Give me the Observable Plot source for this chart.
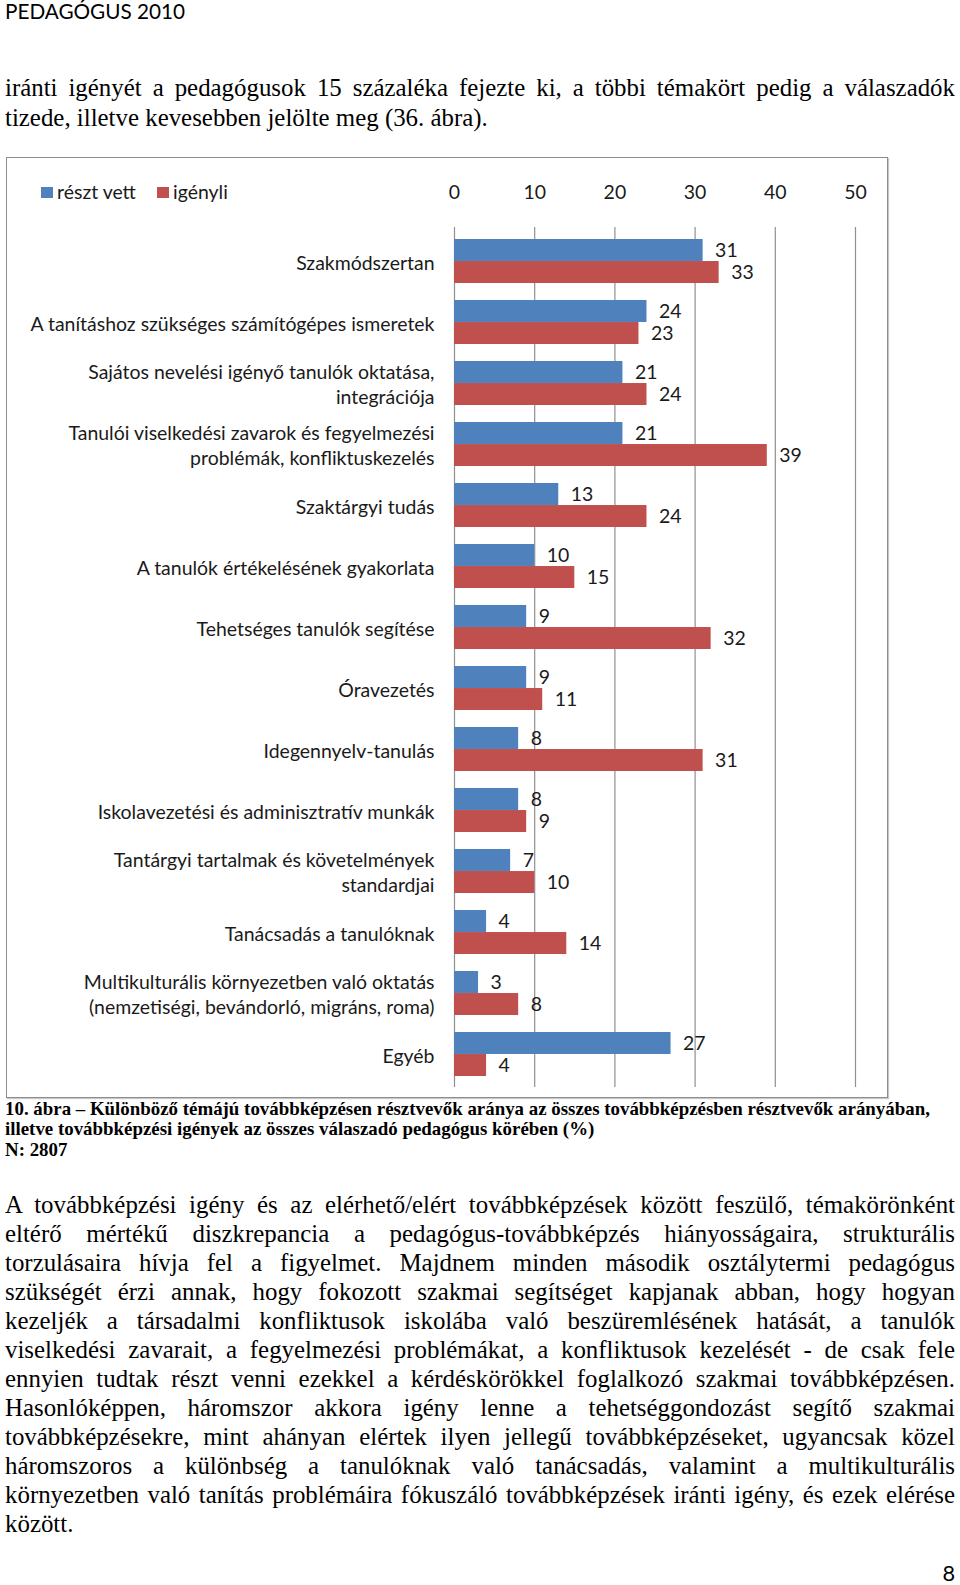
<!DOCTYPE html>
<html>
<head>
<meta charset="utf-8">
<script src="https://cdn.jsdelivr.net/npm/d3@7"></script>
<script src="https://cdn.jsdelivr.net/npm/@observablehq/plot@0.6"></script>
<style>
html, body { margin: 0; padding: 0; background: #fff; width: 960px; height: 1585px; overflow: hidden; }
#page { position: relative; width: 960px; height: 1585px; }
.abs { position: absolute; color: #000; }
</style>
</head>
<body>
<div id="page"></div>
<script>
// ---------- page texts ----------
const headerText = "PEDAGÓGUS 2010";
const introLines = [
  "iránti igényét a pedagógusok 15 százaléka fejezte ki, a többi témakört pedig a válaszadók",
  "tizede, illetve kevesebben jelölte meg (36. ábra)."
];
const captionLines = [
  "10. ábra – Különböző témájú továbbképzésen résztvevők aránya az összes továbbképzésben résztvevők arányában,",
  "illetve továbbképzési igények az összes válaszadó pedagógus körében (%)",
  "N: 2807"
];
const bodyLines = [
  "A továbbképzési igény és az elérhető/elért továbbképzések között feszülő, témakörönként",
  "eltérő mértékű diszkrepancia a pedagógus-továbbképzés hiányosságaira, strukturális",
  "torzulásaira hívja fel a figyelmet. Majdnem minden második osztálytermi pedagógus",
  "szükségét érzi annak, hogy fokozott szakmai segítséget kapjanak abban, hogy hogyan",
  "kezeljék a társadalmi konfliktusok iskolába való beszüremlésének hatását, a tanulók",
  "viselkedési zavarait, a fegyelmezési problémákat, a konfliktusok kezelését - de csak fele",
  "ennyien tudtak részt venni ezekkel a kérdéskörökkel foglalkozó szakmai továbbképzésen.",
  "Hasonlóképpen, háromszor akkora igény lenne a tehetséggondozást segítő szakmai",
  "továbbképzésekre, mint ahányan elértek ilyen jellegű továbbképzéseket, ugyancsak közel",
  "háromszoros a különbség a tanulóknak való tanácsadás, valamint a multikulturális",
  "környezetben való tanítás problémáira fókuszáló továbbképzések iránti igény, és ezek elérése",
  "között."
];
const pageNumber = "8";

// ---------- chart data ----------
const categories = [
  "Szakmódszertan",
  "A tanításhoz szükséges számítógépes ismeretek",
  "Sajátos nevelési igényő tanulók oktatása,\nintegrációja",
  "Tanulói viselkedési zavarok és fegyelmezési\nproblémák, konfliktuskezelés",
  "Szaktárgyi tudás",
  "A tanulók értékelésének gyakorlata",
  "Tehetséges tanulók segítése",
  "Óravezetés",
  "Idegennyelv-tanulás",
  "Iskolavezetési és adminisztratív munkák",
  "Tantárgyi tartalmak és követelmények\nstandardjai",
  "Tanácsadás a tanulóknak",
  "Multikulturális környezetben való oktatás\n(nemzetiségi, bevándorló, migráns, roma)",
  "Egyéb"
];
const seriesNames = ["részt vett", "igényli"];
const resztVett = [31, 24, 21, 21, 13, 10, 9, 9, 8, 8, 7, 4, 3, 27];
const igenyli   = [33, 23, 24, 39, 24, 15, 32, 11, 31, 9, 10, 14, 8, 4];
const xTicks = [0, 10, 20, 30, 40, 50];

// ---------- styling ----------
const colors = ["#4F81BD", "#C0504D"];
const FONT_SANS = 'Lato, "Open Sans", sans-serif';
const FONT_SERIF = '"Liberation Serif", "Times New Roman", serif';
const SANS_M = {asc: 0.987, desc: 0.213};
const SERIF_M = {asc: 0.891, desc: 0.216};

const ctx = document.createElement("canvas").getContext("2d");
function textW(text, family, weight, size) {
  ctx.font = `${weight} ${size}px ${family}`;
  return ctx.measureText(text).width;
}
function fit(text, family, weight, target) {
  return 100 * target / textW(text, family, weight, 100);
}

const page = document.getElementById("page");
function addLine(text, o) {
  const d = document.createElement("div");
  d.className = "abs";
  d.textContent = text;
  const m = o.metrics;
  Object.assign(d.style, {
    left: (o.x ?? 5) + "px",
    top: (o.baseline - m.asc * o.size) + "px",
    fontSize: o.size + "px",
    lineHeight: ((m.asc + m.desc) * o.size) + "px",
    fontFamily: o.family,
    fontWeight: o.weight || "normal",
    whiteSpace: o.justify ? "normal" : "nowrap",
    color: o.color || "#000"
  });
  if (o.width) d.style.width = o.width + "px";
  if (o.justify) { d.style.textAlign = "justify"; d.style.textAlignLast = "justify"; }
  page.appendChild(d);
  return d;
}

// ---------- font sizes fitted to the page ----------
const chartSize = fit(categories[1], FONT_SANS, "normal", 405);
const headerSize = fit(headerText, FONT_SANS, "normal", 170) * 1.06;
let bodySize = fit(introLines[1], FONT_SERIF, "normal", 483);
const justified = introLines.slice(0, 1).concat(bodyLines.slice(0, -1));
const widest = Math.max(...justified.map(t => textW(t, FONT_SERIF, "normal", bodySize)));
if (widest > 946) bodySize *= 946 / widest;
const capSize = fit(captionLines[0], FONT_SERIF, "bold", 926);

// ---------- header & intro ----------
addLine(headerText, {baseline: 19.5, size: headerSize, family: FONT_SANS, metrics: SANS_M});
introLines.forEach((t, i) => addLine(t, {
  baseline: 96.5 + i * 29.2, size: bodySize, family: FONT_SERIF, metrics: SERIF_M,
  width: 950, justify: i < introLines.length - 1
}));

// ---------- chart box ----------
const box = document.createElement("div");
Object.assign(box.style, {
  position: "absolute", left: "6px", top: "157px", width: "882px", height: "941px",
  border: "1.5px solid #8e8e8e", boxSizing: "border-box", boxShadow: "1px 1px 1px #c8c8c8"
});
page.appendChild(box);

// legend
seriesNames.forEach((name, i) => {
  const sx = [41, 157][i];
  const sw = document.createElement("div");
  Object.assign(sw.style, {position: "absolute", left: sx + "px", top: "186.5px", width: "11.5px", height: "11.5px", background: colors[i]});
  page.appendChild(sw);
  addLine(name, {x: sx + 16, baseline: 199, size: chartSize, family: FONT_SANS, metrics: SANS_M, color: "#1a1a1a"});
});

// ---------- the chart ----------
const rows = categories.map((cat, i) => ({cat, a: resztVett[i], b: igenyli[i]}));
const H = 941, mT = 70, mB = 11, mL = 454, mR = 105;
const padInner = 0.283;
const step = (H - mT - mB) / categories.length;
const half = step * (1 - padInner) / 2;

const chart = Plot.plot({
  width: 960,
  height: H,
  marginTop: mT, marginBottom: mB, marginLeft: mL, marginRight: mR,
  style: {fontFamily: FONT_SANS, fontSize: chartSize + "px", color: "#1a1a1a", background: "transparent", overflow: "visible"},
  x: {domain: [0, 50]},
  y: {type: "band", domain: categories, paddingInner: padInner, paddingOuter: padInner / 2, axis: null},
  marks: [
    Plot.ruleX(xTicks, {stroke: "#909090", strokeWidth: 1.2}),
    Plot.barX(rows, {y: "cat", x1: 0, x2: "a", fill: colors[0], insetBottom: half}),
    Plot.barX(rows, {y: "cat", x1: 0, x2: "b", fill: colors[1], insetTop: half}),
    Plot.text(rows, {y: "cat", x: "a", text: d => String(d.a), dx: 12, dy: -half / 2, textAnchor: "start", fill: "#1a1a1a"}),
    Plot.text(rows, {y: "cat", x: "b", text: d => String(d.b), dx: 12, dy: half / 2, textAnchor: "start", fill: "#1a1a1a"}),
    Plot.text(rows, {y: "cat", text: "cat", frameAnchor: "left", textAnchor: "end", dx: -20, lineHeight: 25 / chartSize, fill: "#1a1a1a", ariaLabel: "category-labels"}),
    Plot.axisX({anchor: "top", ticks: xTicks, tickSize: 0, tickPadding: 28.5, label: null, fill: "#1a1a1a"})
  ]
});
const holder = document.createElement("div");
Object.assign(holder.style, {position: "absolute", left: "0px", top: "157px", width: "960px", height: H + "px"});
holder.appendChild(chart);
page.appendChild(holder);

// center the lines of multi-line category labels within their block
chart.querySelectorAll('g[aria-label="category-labels"] text').forEach(t => {
  const spans = t.querySelectorAll("tspan");
  if (spans.length < 2) return;
  const maxW = Math.max(...Array.from(spans, s => s.getComputedTextLength()));
  t.setAttribute("text-anchor", "middle");
  spans.forEach(s => s.setAttribute("x", -maxW / 2));
});

// ---------- caption ----------
captionLines.forEach((t, i) => addLine(t, {
  baseline: 1115.5 + i * 20.5, size: capSize, family: FONT_SERIF, weight: "bold", metrics: SERIF_M
}));

// ---------- body ----------
bodyLines.forEach((t, i) => addLine(t, {
  baseline: 1213.3 + i * 29.0, size: bodySize, family: FONT_SERIF, metrics: SERIF_M,
  width: 950, justify: i < bodyLines.length - 1
}));

// ---------- page number ----------
const pnSize = headerSize * 1.05;
addLine(pageNumber, {x: 955 - textW(pageNumber, FONT_SANS, "normal", pnSize), baseline: 1581, size: pnSize, family: FONT_SANS, metrics: SANS_M});
</script>
</body>
</html>
